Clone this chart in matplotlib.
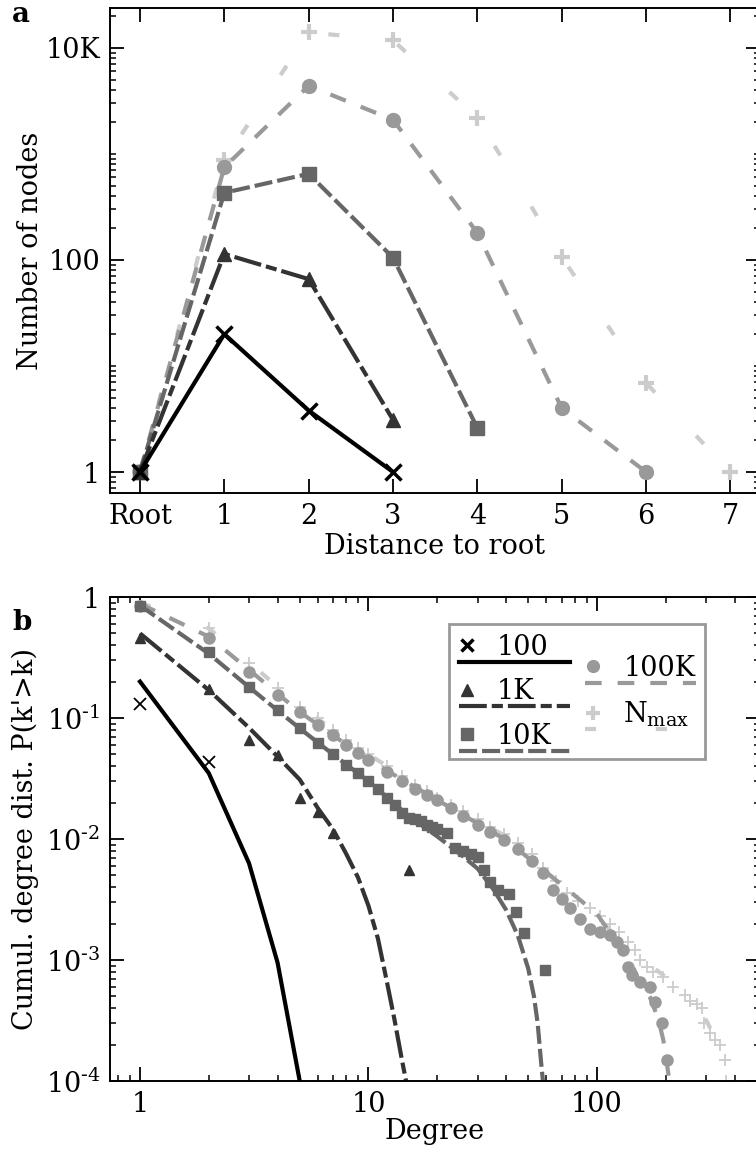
import matplotlib
matplotlib.use("Agg")
import matplotlib.pyplot as plt
import numpy as np
from matplotlib.ticker import FixedLocator, LogLocator, FuncFormatter, NullFormatter
from matplotlib.legend_handler import HandlerBase
from matplotlib.lines import Line2D

plt.rcParams['font.family'] = ['DejaVu Serif']
plt.rcParams['mathtext.default'] = 'regular'
plt.rcParams['lines.scale_dashes'] = False
plt.rcParams['font.size'] = 19.5

# ---- panel a: number of nodes per distance to root ----
dist_labels = ['Root', '1', '2', '3', '4', '5', '6', '7']
nodes_100 = [1, 20, 3.8, 1]
nodes_1k = [1, 114, 66, 3.1]
nodes_10k = [1, 430, 650, 105, 2.6]
nodes_100k = [1, 750, 4400, 2100, 180, 4.0, 1]
nodes_nmax = [1, 870, 14000, 11800, 2200, 107, 6.9, 1]

# ---- panel b: cumulative degree distribution ----
# data points (markers)
k_100 = [1, 2]
p_100 = [0.13, 0.043]
k_1k = [1, 2, 3, 4, 5, 6, 7, 15]
p_1k = [0.46, 0.175, 0.066, 0.049, 0.022, 0.0167, 0.0112, 0.0055]
k_10k = [1, 2, 3, 4, 5, 6, 7, 8, 9, 10, 11, 12, 13, 14, 15, 16, 17, 18, 19, 20,
         22, 24, 26, 28, 30, 32, 34, 37, 41, 44, 48, 59]
p_10k = [0.85, 0.35, 0.18, 0.116, 0.082, 0.062, 0.05, 0.041, 0.035, 0.03, 0.026,
         0.022, 0.019, 0.0164, 0.015, 0.0145, 0.014, 0.013, 0.0125, 0.012,
         0.0112, 0.0085, 0.008, 0.0075, 0.0071, 0.0055, 0.0044, 0.0038, 0.0035,
         0.0025, 0.00167, 0.00083]
k_100k = [1, 2, 3, 4, 5, 6, 7, 8, 9, 10, 12, 14, 16, 18, 20, 23, 26, 30, 34, 39,
          45, 52, 58, 64, 70, 76, 84, 93, 103, 114, 122, 130, 137, 142, 155, 170,
          180, 192, 203]
p_100k = [0.85, 0.46, 0.24, 0.155, 0.112, 0.0875, 0.072, 0.06, 0.051, 0.045,
          0.036, 0.03, 0.026, 0.023, 0.021, 0.018, 0.0155, 0.013, 0.0115, 0.0098,
          0.0082, 0.0066, 0.0052, 0.0038, 0.0032, 0.0027, 0.0022, 0.0018, 0.0017,
          0.0016, 0.0014, 0.0012, 0.00088, 0.00075, 0.00066, 0.0006, 0.00045,
          0.0003, 0.00015]
k_nmax = [1, 2, 3, 4, 5, 6, 7, 8, 9, 10, 12, 14, 16, 18, 20, 23, 26, 30, 34, 39,
          45, 52, 58, 66, 74, 83, 93, 103, 114, 125, 137, 146, 155, 165, 176, 195,
          215, 242, 255, 275, 288, 295, 311, 330, 345, 364, 368]
p_nmax = [0.85, 0.55, 0.285, 0.177, 0.123, 0.1, 0.079, 0.066, 0.057, 0.05, 0.04,
          0.033, 0.028, 0.025, 0.022, 0.019, 0.017, 0.0145, 0.0125, 0.011,
          0.0092, 0.0075, 0.0058, 0.0045, 0.0036, 0.0031, 0.0027, 0.0023, 0.002,
          0.0017, 0.0014, 0.0012, 0.001, 0.00088, 0.00079, 0.00072, 0.0006,
          0.00051, 0.00046, 0.00043, 0.0004, 0.0003, 0.00025, 0.00022, 0.0002,
          0.00015, 0.0001]

# model curves (lines)
kf_100 = [1, 2, 3, 4, 5]
pf_100 = [0.2, 0.035, 0.0063, 0.00095, 0.0001]
kf_1k = [1, 2, 3, 4, 5, 6, 7, 8, 9, 10, 11, 12, 13, 14, 14.6]
pf_1k = [0.5, 0.17, 0.083, 0.048, 0.031, 0.018, 0.012, 0.0075, 0.0048, 0.0028,
         0.0015, 0.00068, 0.00032, 0.00015, 0.0001]
kf_10k = [1, 2, 3, 5, 7, 10, 15, 20, 25, 30, 35, 40, 45, 50, 53, 55, 57, 58]
pf_10k = [0.85, 0.34, 0.18, 0.082, 0.05, 0.03, 0.0155, 0.0105, 0.0076, 0.0057,
          0.0039, 0.0026, 0.0016, 0.00085, 0.0005, 0.0003, 0.00014, 0.0001]
kf_100k = [1, 2, 3, 5, 10, 20, 40, 70, 100, 122, 140, 150, 170, 185, 195, 205, 207]
pf_100k = [0.88, 0.47, 0.25, 0.112, 0.045, 0.021, 0.0098, 0.0042, 0.0024, 0.0014,
           0.001, 0.00072, 0.0005, 0.00033, 0.00022, 0.000117, 0.0001]
kf_nmax = [1, 2, 3, 5, 10, 20, 40, 80, 150, 250, 275, 300, 340, 365, 372]
pf_nmax = [0.9, 0.55, 0.29, 0.125, 0.05, 0.022, 0.0105, 0.0033, 0.0011, 0.00052,
           0.00042, 0.00032, 0.0002, 0.00012, 0.0001]

labels = ['100', '1K', '10K', '100K', r'N$_{max}$']
colors = ['#000000', '#333333', '#666666', '#999999', '#cccccc']
dashes = [None, (20, 3.6, 8, 3.6), (13, 3.6), (12, 11.5), (8, 43)]
markers = ['x', '^', 's', 'o', '+']
ms_a = [11, 10, 10, 10, 12]
mew_a = [2.5, 1, 1, 1, 3]
ms_b = [8, 7, 7, 8, 9]
mew_b = [1.3, 1, 1, 1, 1.3]

fig = plt.figure(figsize=(7.56, 11.53), dpi=100)
ax1 = fig.add_axes([110 / 756, 1 - 493 / 1153, 650 / 756, 485 / 1153])
ax2 = fig.add_axes([110 / 756, 1 - 1081 / 1153, 650 / 756, 484 / 1153])


def style(line, i):
    if dashes[i] is None:
        line.set_linestyle('-')
    else:
        line.set_dashes(dashes[i])


nodes = [nodes_100, nodes_1k, nodes_10k, nodes_100k, nodes_nmax]
handles = []
for i in reversed(range(5)):
    ln, = ax1.plot(range(len(nodes[i])), nodes[i], color=colors[i], lw=3,
                   marker=markers[i], ms=ms_a[i], mew=mew_a[i],
                   mec=colors[i], mfc=colors[i], label=labels[i])
    style(ln, i)
    handles.insert(0, ln)

ax1.set_yscale('log')
ax1.set_xlim(-0.355, 7.35)
ax1.set_ylim(0.634, 23800)
ax1.xaxis.set_major_locator(FixedLocator(range(8)))
ax1.set_xticklabels(dist_labels)
ax1.yaxis.set_major_locator(FixedLocator([1, 100, 10000]))
ax1.yaxis.set_major_formatter(FuncFormatter(lambda v, p: {1: '1', 100: '100', 10000: '10K'}.get(int(round(v)), '')))
ax1.yaxis.set_minor_locator(LogLocator(base=10, subs=np.arange(1, 10), numticks=20))
ax1.yaxis.set_minor_formatter(NullFormatter())
ax1.set_xlabel('Distance to root', labelpad=2)
ax1.set_ylabel('Number of nodes', labelpad=1)

# panel b
kd = [k_100, k_1k, k_10k, k_100k, k_nmax]
pd_ = [p_100, p_1k, p_10k, p_100k, p_nmax]
kf = [kf_100, kf_1k, kf_10k, kf_100k, kf_nmax]
pf = [pf_100, pf_1k, pf_10k, pf_100k, pf_nmax]
for i in reversed(range(5)):
    ln, = ax2.plot(kf[i], pf[i], color=colors[i], lw=3)
    style(ln, i)
    ax2.plot(kd[i], pd_[i], ls='none', marker=markers[i], ms=ms_b[i],
             mew=mew_b[i], mec=colors[i], mfc=colors[i])

ax2.set_xscale('log')
ax2.set_yscale('log')
ax2.set_xlim(0.739, 517)
ax2.set_ylim(1e-4, 1)
ax2.xaxis.set_major_locator(FixedLocator([1, 10, 100]))
ax2.xaxis.set_major_formatter(FuncFormatter(lambda v, p: '%d' % round(v)))
ax2.xaxis.set_minor_locator(LogLocator(base=10, subs=np.arange(2, 10), numticks=20))
ax2.xaxis.set_minor_formatter(NullFormatter())
ax2.yaxis.set_major_locator(FixedLocator([1e-4, 1e-3, 1e-2, 1e-1, 1]))
ax2.yaxis.set_major_formatter(FuncFormatter(
    lambda v, p: '1' if v >= 0.99 else r'10$^{\text{-}%d}$' % round(-np.log10(v))))
ax2.yaxis.set_minor_locator(LogLocator(base=10, subs=np.arange(2, 10), numticks=20))
ax2.yaxis.set_minor_formatter(NullFormatter())
ax2.set_xlabel('Degree', labelpad=0)
ax2.set_ylabel("Cumul. degree dist. P(k'>k)", labelpad=5)

for ax in (ax1, ax2):
    for s in ax.spines.values():
        s.set_linewidth(1.4)
    ax.tick_params(which='major', direction='in', length=10, width=1.3,
                   top=True, right=True, labelsize=19.5, pad=7)
    ax.tick_params(which='minor', direction='in', length=4, width=1.1,
                   top=True, right=True)


class MarkerOverLine(HandlerBase):
    def __init__(self, span):
        super().__init__()
        self.span = span

    def create_artists(self, legend, orig, xdescent, ydescent, width, height,
                       fontsize, trans):
        yc = height / 2 - ydescent
        mk = Line2D([width * 0.3 - xdescent], [yc])
        mk.update_from(orig)
        mk.set_linestyle('none')
        mk.set_markersize(orig.get_markersize() * 0.85)
        ln = Line2D([-xdescent, -xdescent + self.span], [yc - 12, yc - 12])
        ln.update_from(orig)
        ln.set_marker('none')
        for a in (mk, ln):
            a.set_clip_on(False)
            a.set_clip_box(None)
            a.set_transform(trans)
        return [mk, ln]


hmap = {h: MarkerOverLine(80) for h in handles}
leg = ax2.legend(handles=handles, labels=labels, ncol=2, handler_map=hmap,
                 loc='upper right', bbox_to_anchor=(0.915, 0.944),
                 borderaxespad=0,
                 fontsize=19.5, handlelength=1.0, handletextpad=0.4,
                 columnspacing=1.25, labelspacing=0.65, borderpad=0.35,
                 fancybox=False, framealpha=1, edgecolor='#999999')
leg.get_frame().set_linewidth(2)
leg._legend_handle_box.align = 'center'

fig.text(12 / 756, 1 - 15 / 1153, 'a', fontsize=20, fontweight='bold', va='center')
fig.text(12 / 756, 1 - 622 / 1153, 'b', fontsize=20, fontweight='bold', va='center')

fig.savefig('out.png', dpi=100)
